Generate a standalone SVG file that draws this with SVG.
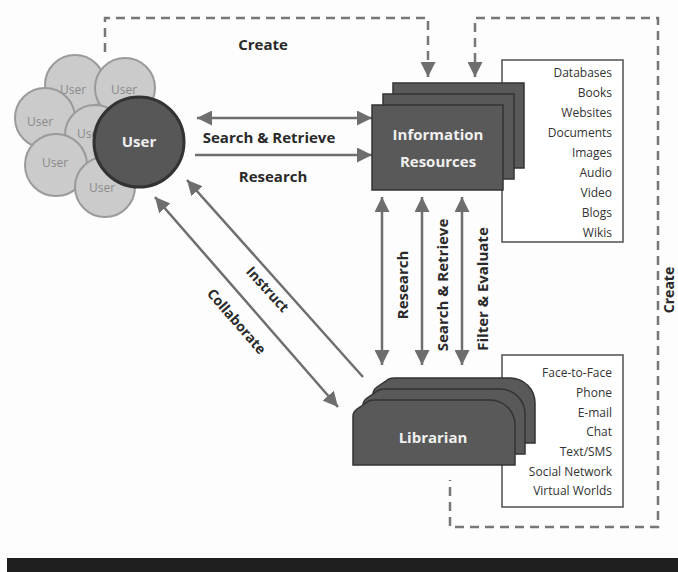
<svg xmlns="http://www.w3.org/2000/svg" width="678" height="572" viewBox="0 0 678 572">
<defs>
<marker id="ah" markerUnits="userSpaceOnUse" markerWidth="15" markerHeight="15" viewBox="0 0 15 15" refX="15" refY="7.5" orient="auto-start-reverse">
<path d="M0,0 L15,7.5 L0,15 Z" fill="#6e6e6e"/>
</marker>
<path id="lib" d="M0,65 L0,16 Q0,12 4,9 L16,1 Q18,0 22,0 L137,0 A25,25 0 0 1 162,25 L162,65 Z"/>
</defs>
<style>
.lbl{font-family:"Open Sans","Liberation Sans",sans-serif;font-weight:bold;font-size:15px;fill:#2a2a2a}
.dl{font-family:"Open Sans","Liberation Sans",sans-serif;font-weight:bold;font-size:14px;fill:#2a2a2a}
.vl{font-family:"Open Sans","Liberation Sans",sans-serif;font-weight:bold;font-size:15px;fill:#2a2a2a}
.list{font-family:"Open Sans","Liberation Sans",sans-serif;font-size:12px;fill:#333;text-anchor:end}
.box{fill:#fff;stroke:#5a5a5a;stroke-width:1.6}
.dark{fill:#595959;stroke:#333;stroke-width:1.5}
.gc{fill:#cbcbcb;stroke:#9a9a9a;stroke-width:2}
.gt{font-family:"Open Sans","Liberation Sans",sans-serif;font-size:12px;fill:#8a8a8a;text-anchor:middle}
.wt{font-family:"Open Sans","Liberation Sans",sans-serif;font-weight:bold;font-size:15px;fill:#f0f0f0;text-anchor:middle}
.ar{stroke:#6e6e6e;stroke-width:2.5;fill:none}
.dash{stroke:#777;stroke-width:2.5;fill:none;stroke-dasharray:9,6}
</style>
<rect width="678" height="572" fill="#fdfdfd"/>

<g id="connectors">
<polyline class="dash" points="105,52 105,18 428,18 428,62"/>
<line class="ar" x1="428" y1="62" x2="428" y2="77" marker-end="url(#ah)"/>
<polyline class="dash" points="475,62 475,18 658,18 658,527 450,527 450,480"/>
<line class="ar" x1="475" y1="62" x2="475" y2="77" marker-end="url(#ah)"/>
<line class="ar" x1="197" y1="118" x2="372" y2="118" marker-start="url(#ah)" marker-end="url(#ah)"/>
<line class="ar" x1="195" y1="155" x2="372" y2="155" marker-end="url(#ah)"/>
<line class="ar" x1="382" y1="197" x2="382" y2="365" marker-start="url(#ah)" marker-end="url(#ah)"/>
<line class="ar" x1="422" y1="197" x2="422" y2="365" marker-start="url(#ah)" marker-end="url(#ah)"/>
<line class="ar" x1="462" y1="197" x2="462" y2="365" marker-start="url(#ah)" marker-end="url(#ah)"/>
<line class="ar" x1="363" y1="377" x2="187" y2="180" marker-end="url(#ah)"/>
<line class="ar" x1="155" y1="197" x2="338" y2="407" marker-start="url(#ah)" marker-end="url(#ah)"/>
<text class="lbl" x="263" y="50" text-anchor="middle">Create</text>
<text class="lbl" x="269" y="143" text-anchor="middle">Search &amp; Retrieve</text>
<text class="lbl" x="273" y="182" text-anchor="middle">Research</text>
<text class="vl" transform="translate(402,285) rotate(-90)" text-anchor="middle" dominant-baseline="central">Research</text>
<text class="vl" transform="translate(442,285) rotate(-90)" text-anchor="middle" dominant-baseline="central">Search &amp; Retrieve</text>
<text class="vl" transform="translate(482,289) rotate(-90)" text-anchor="middle" dominant-baseline="central">Filter &amp; Evaluate</text>
<text class="dl" transform="translate(268,289) rotate(48)" text-anchor="middle" dominant-baseline="central">Instruct</text>
<text class="dl" transform="translate(237,321) rotate(49)" text-anchor="middle" dominant-baseline="central">Collaborate</text>
<text class="dl" transform="translate(668,290) rotate(-90)" text-anchor="middle" dominant-baseline="central">Create</text>
</g>

<g id="users">
<circle class="gc" cx="75" cy="85" r="30"/>
<text class="gt" x="73" y="94">User</text>
<circle class="gc" cx="125" cy="88" r="30"/>
<text class="gt" x="124" y="94">User</text>
<circle class="gc" cx="45" cy="118" r="30"/>
<text class="gt" x="40" y="126">User</text>
<circle class="gc" cx="95" cy="135" r="30"/>
<text class="gt" x="90" y="138">User</text>
<circle class="gc" cx="56" cy="165" r="31"/>
<text class="gt" x="55" y="167">User</text>
<circle class="gc" cx="105" cy="187" r="30"/>
<text class="gt" x="102" y="192">User</text>
</g>

<g id="user">
<circle cx="139" cy="142" r="45" fill="#575757" stroke="#333" stroke-width="3"/>
<text class="wt" x="139" y="147">User</text>
</g>

<g id="resources-list">
<rect class="box" x="502" y="60" width="121" height="182"/>
<text class="list" x="612" y="77">Databases</text>
<text class="list" x="612" y="97">Books</text>
<text class="list" x="612" y="117">Websites</text>
<text class="list" x="612" y="137">Documents</text>
<text class="list" x="612" y="157">Images</text>
<text class="list" x="612" y="177">Audio</text>
<text class="list" x="612" y="197">Video</text>
<text class="list" x="612" y="217">Blogs</text>
<text class="list" x="612" y="237">Wikis</text>
</g>

<g id="information-resources">
<rect class="dark" x="393" y="83" width="131" height="85"/>
<rect class="dark" x="383" y="94" width="131" height="85"/>
<rect class="dark" x="372" y="105" width="131" height="85"/>
<text class="wt" x="438" y="140">Information</text>
<text class="wt" x="438" y="167">Resources</text>
</g>

<g id="contact-list">
<rect class="box" x="502" y="355" width="121" height="152"/>
<text class="list" x="612" y="377">Face-to-Face</text>
<text class="list" x="612" y="397">Phone</text>
<text class="list" x="612" y="417">E-mail</text>
<text class="list" x="612" y="436">Chat</text>
<text class="list" x="612" y="456">Text/SMS</text>
<text class="list" x="612" y="476">Social Network</text>
<text class="list" x="612" y="495">Virtual Worlds</text>
</g>

<g id="librarian">
<use href="#lib" class="dark" x="373" y="378"/>
<use href="#lib" class="dark" x="363" y="389"/>
<use href="#lib" class="dark" x="353" y="400"/>
<text class="wt" x="433" y="443">Librarian</text>
</g>

<rect x="7" y="558" width="671" height="14" fill="#1e1e1e"/>
</svg>
